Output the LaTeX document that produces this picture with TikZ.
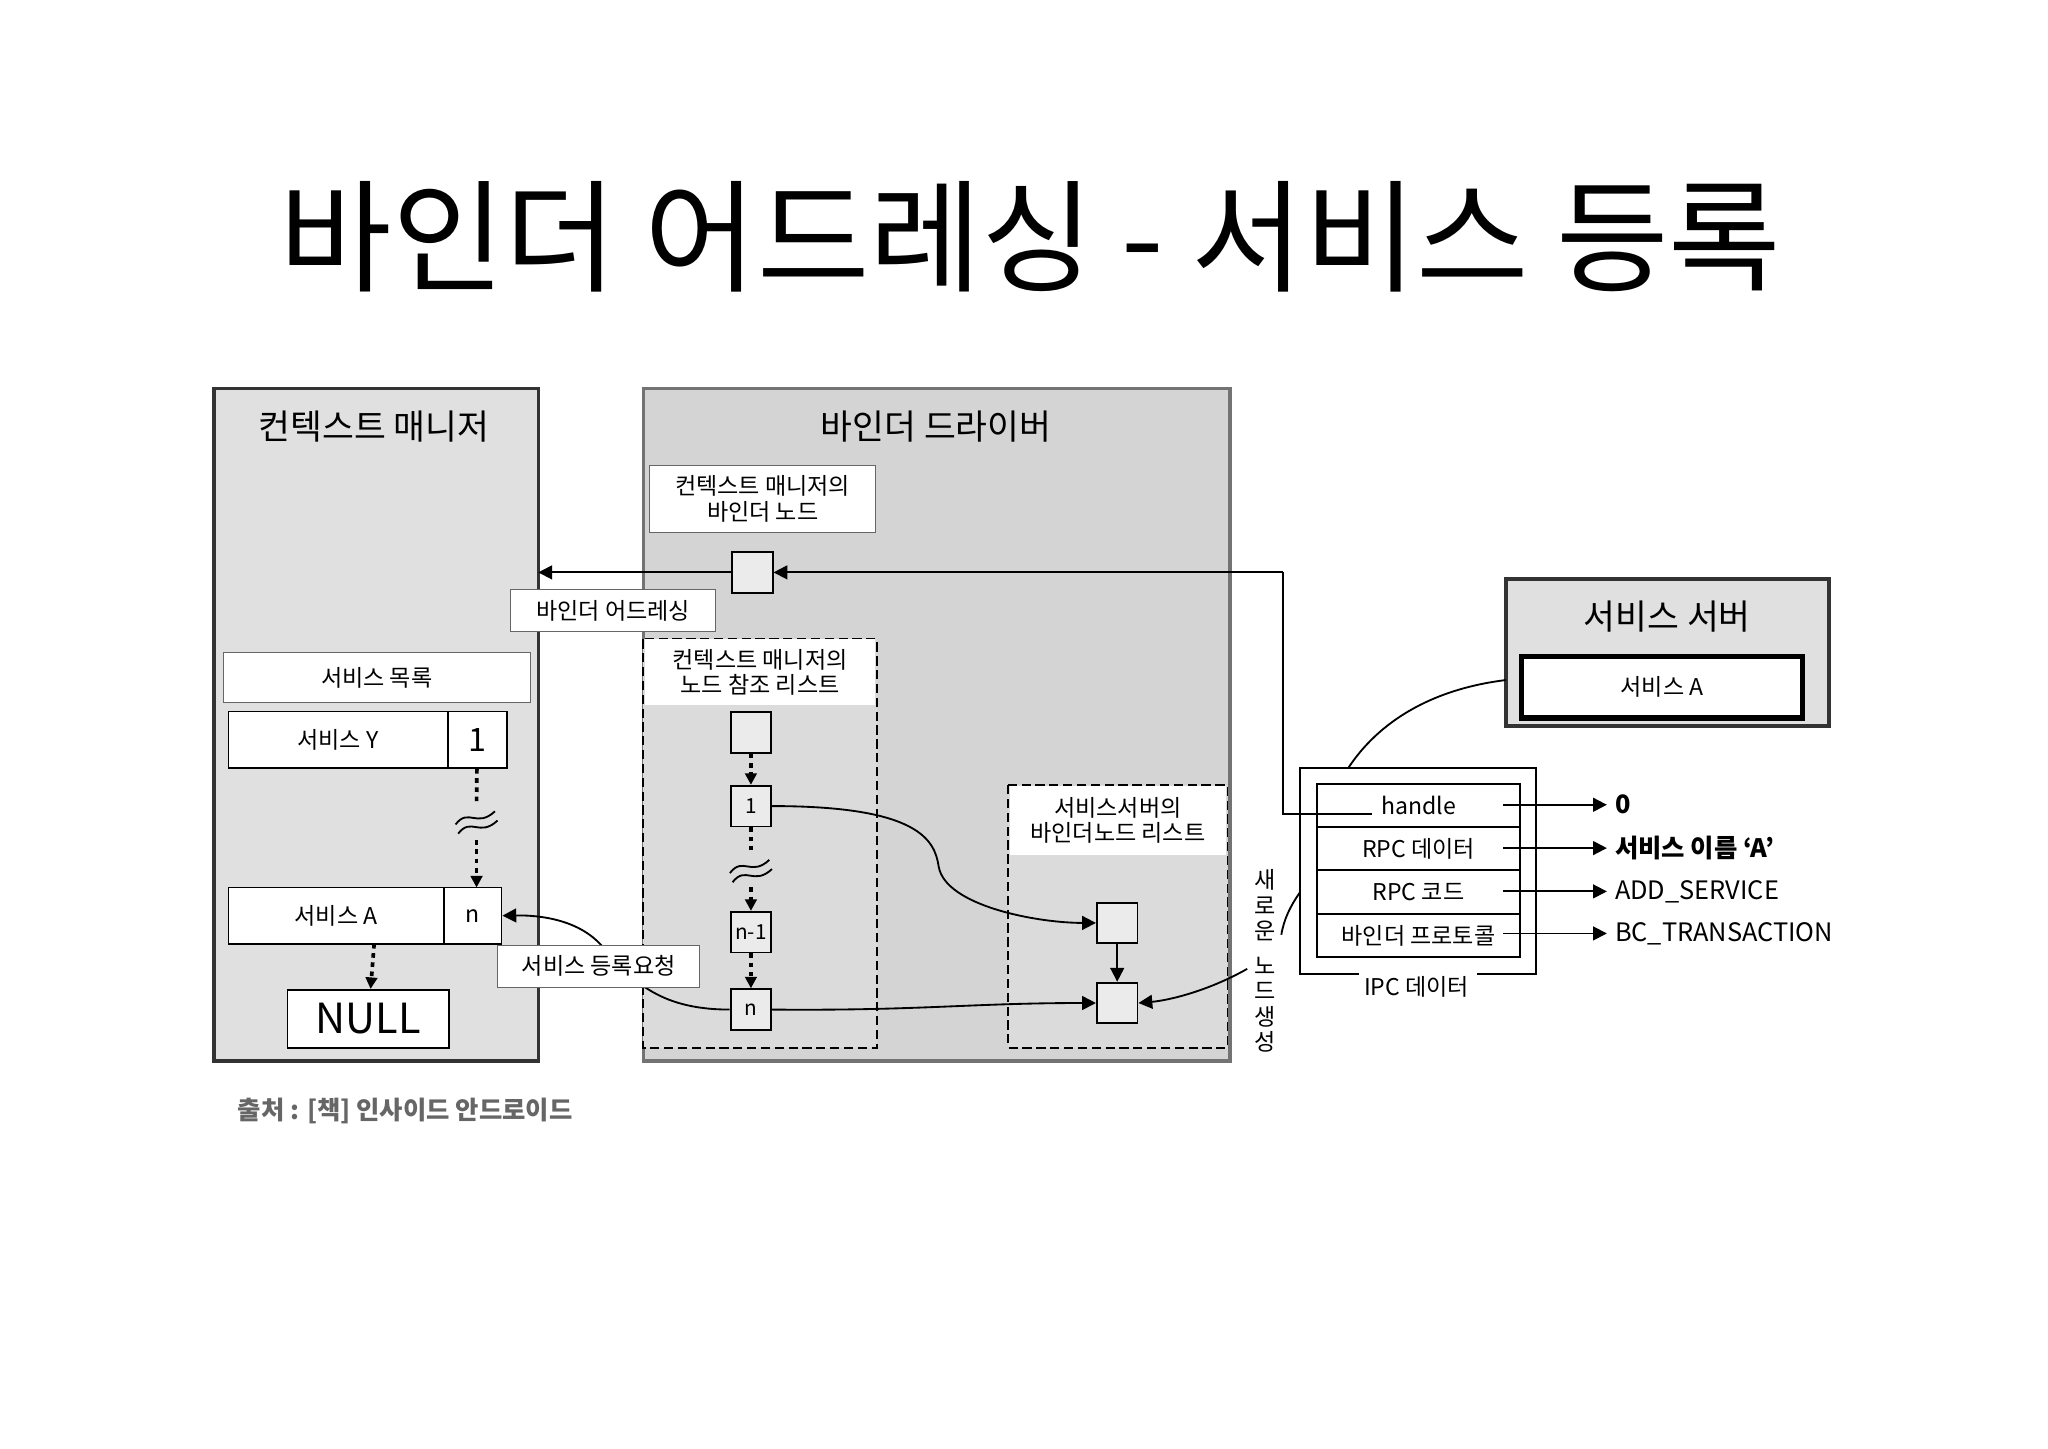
\documentclass[tikz,border=0pt]{standalone}
\usepackage{fontspec}
\setmainfont{Noto Sans CJK KR}
\usetikzlibrary{arrows.meta,calc}
\begin{document}
\begin{tikzpicture}[x=0.02cm,y=-0.02cm,
  lab/.style={font=\fontsize{10}{12}\selectfont},
  wbox/.style={draw=black!60,fill=white,lab},
  sq/.style={draw,thick,fill=black!8,minimum size=0.62cm,inner sep=0pt,font=\fontsize{9}{10}\selectfont},
  arr/.style={-{Triangle[length=6pt,width=6pt]},thick},
  dotarr/.style={-{Triangle[length=5pt,width=5pt]},line width=1.6pt,dash pattern=on 2pt off 2pt},
  dbox/.style={draw,thick,dashed,dash pattern=on 4pt off 2pt},
  row/.style={draw,thick,fill=white,minimum width=3.1cm,minimum height=0.66cm,inner sep=0pt,lab}]
\useasboundingbox (0,0) rectangle (1560,1103);
\fill[white] (0,0) rectangle (1560,1103);
\node (title) at (785,180) {\fontsize{53}{58}\selectfont 바인더 어드레싱 - 서비스 등록};
% context manager
\draw[line width=1.5pt,draw=black!80,fill=black!12] (163,296) rectangle (410,808);
\node[font=\fontsize{15}{18}\selectfont] (cmt) at (285,325) {컨텍스트 매니저};
% driver
\draw[line width=1.5pt,draw=black!55,fill=black!17] (490,296) rectangle (937,808);
\node[font=\fontsize{15}{18}\selectfont] (bdt) at (713,325) {바인더 드라이버};
\node[wbox,minimum width=3.44cm,minimum height=1.02cm,align=center,font=\fontsize{10}{11}\selectfont] (cmn) at (581,380) {컨텍스트 매니저의\\바인더 노드};
\node[sq] (bn) at (573,436) {};
\coordinate (cmedge) at (410,436);
\node[wbox,minimum width=3.12cm,minimum height=0.64cm] (ba) at (467,465) {바인더 어드레싱};
% dashed list 1
\draw[dbox,fill=black!14] (490,487) rectangle (668,798);
\node[fill=white,minimum width=3.5cm,minimum height=1.0cm,align=center,font=\fontsize{10}{11}\selectfont,inner sep=0pt] (rl) at (579,512) {컨텍스트 매니저의\\노드 참조 리스트};
\node[sq] (s0) at (572,558) {};
\node[sq] (s1) at (572,614) {1};
\node[sq] (sn1) at (572,710) {n-1};
\node[sq] (sn) at (572,769) {n};
\draw[dotarr] (s0) -- (s1);
\draw[line width=1.6pt,dash pattern=on 2pt off 2pt] (s1) -- (572,650);
\draw[thick] (556,665) .. controls (566,652) and (572,668) .. (586,655);
\draw[thick] (558,672) .. controls (568,659) and (574,675) .. (588,662);
\draw[dotarr] (572,676) -- (sn1);
\draw[dotarr] (sn1) -- (sn);
% service list
\node[wbox,minimum width=4.68cm,minimum height=0.76cm] (sl) at (287,516) {서비스 목록};
\node[draw,thick,fill=white,minimum width=3.34cm,minimum height=0.86cm,lab] (sy) at (257.5,563.5) {서비스 Y};
\node[draw,thick,fill=white,minimum width=0.9cm,minimum height=0.86cm,font=\fontsize{14}{16}\selectfont] (s1b) at (363.5,563.5) {1};
\node[draw,thick,fill=white,minimum width=3.28cm,minimum height=0.86cm,lab] (sa) at (256,697.5) {서비스 A};
\node[draw,thick,fill=white,minimum width=0.88cm,minimum height=0.86cm,lab] (snb) at (360,697.5) {n};
\draw[line width=1.6pt,dash pattern=on 2pt off 2pt] (s1b) -- (363,613);
\draw[thick] (347,628) .. controls (357,615) and (363,631) .. (377,618);
\draw[thick] (349,635) .. controls (359,622) and (365,638) .. (379,625);
\draw[dotarr] (363,640) -- (363,676);
\node[draw,thick,fill=white,minimum width=2.46cm,minimum height=0.88cm,font=\fontsize{18}{20}\selectfont] (null) at (280.5,776) {NULL};
\draw[dotarr] (285,719) -- (null);
\draw[arr] (sn.west) .. controls (500,769) and (480,745) .. (458,720) .. controls (440,700) and (410,697) .. (snb.east);
\node[wbox,minimum width=3.08cm,minimum height=0.64cm] (req) at (456,736) {서비스 등록요청};
% dashed list 2
\draw[dbox,fill=black!14] (768,598) rectangle (935,798);
\node[fill=white,minimum width=3.3cm,minimum height=1.04cm,align=center,font=\fontsize{10}{11}\selectfont,inner sep=0pt] (sl2) at (851.5,625) {서비스서버의\\바인더노드 리스트};
\node[sq] (t1) at (851,703) {};
\node[sq] (t2) at (851,764) {};
\draw[arr] (t1) -- (t2);
\draw[arr] (s1.east) .. controls (700,614) and (712,640) .. (715,660) .. controls (720,690) and (790,703) .. (t1.west);
\draw[arr] (sn.east) .. controls (700,770) and (740,764) .. (t2.west);
% new node text
\node[font=\fontsize{10}{11}\selectfont,align=center,inner sep=0pt] (nn) at (964,732) {새\\로\\운\\[4pt]노\\드\\생\\성};
\draw[arr] (950,738) .. controls (920,755) and (890,762) .. (t2.east);
% service server
\draw[line width=1.5pt,draw=black!80,fill=black!12] (1147,441) rectangle (1393,553);
\node[font=\fontsize{15}{18}\selectfont] (sst) at (1270,470) {서비스 서버};
\node[draw,line width=2.5pt,fill=white,minimum width=4.28cm,minimum height=0.94cm,lab] (ssa) at (1266,523.5) {서비스 A};
% IPC
\draw[thick] (1035,742) -- (990,742) -- (990,585) -- (1170,585) -- (1170,742) -- (1125,742);
\node[lab,fill=white,inner sep=1pt] (ipcl) at (1079,752) {IPC 데이터};
\draw[thick] (1147,518) .. controls (1090,525) and (1050,550) .. (1027,585);
\draw[thick] (990,680) .. controls (983,690) and (978,700) .. (976,712);
\node[row] (r1) at (1080.5,613.5) {handle};
\node[row] (r2) at (1080.5,646.5) {RPC 데이터};
\node[row] (r3) at (1080.5,679.5) {RPC 코드};
\node[row] (r4) at (1080.5,712.5) {바인더 프로토콜};
\draw[thick] (1045,620) -- (977,620) -- (977,436);
\draw[arr] (977,436) -- (bn.east);
\draw[arr] (bn.west) -- (cmedge);
\node[anchor=west,font=\fontsize{11}{12}\selectfont\bfseries] (v1) at (1224,613) {0};
\node[anchor=west,font=\fontsize{11}{12}\selectfont\bfseries] (v2) at (1224,646) {서비스 이름 ‘A’};
\node[anchor=west,font=\fontsize{11}{12}\selectfont] (v3) at (1224,679) {ADD\_SERVICE};
\node[anchor=west,font=\fontsize{11}{12}\selectfont] (v4) at (1224,711) {BC\_TRANSACTION};
\draw[arr] (1145,613) -- (v1.west);
\draw[arr] (1145,646) -- (v2.west);
\draw[arr] (1145,679) -- (v3.west);
\draw[arr] (1145,711) -- (v4.west);
\node[anchor=west,text=black!60,font=\fontsize{11}{12}\selectfont\bfseries] (src) at (175,846) {출처 : [책] 인사이드 안드로이드};
\end{tikzpicture}
\end{document}
